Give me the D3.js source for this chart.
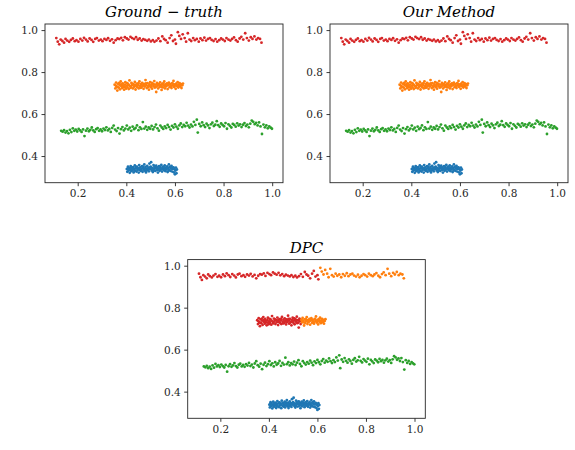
<!DOCTYPE html>
<html><head><meta charset="utf-8">
<script src="https://cdn.jsdelivr.net/npm/d3@7"></script>
<style>html,body{margin:0;padding:0;background:#fff}svg{display:block}</style>
</head><body>
<svg id="chart" width="575" height="450"></svg>
<script>
// ---- data ----
const redPts = [[0.112,0.962],[0.118,0.945],[0.124,0.932],[0.130,0.955],[0.137,0.948],[0.144,0.940],[0.150,0.958],[0.157,0.950],[0.165,0.944],[0.172,0.953],[0.180,0.960],[0.188,0.947],[0.195,0.952],[0.203,0.945],[0.211,0.958],[0.219,0.950],[0.226,0.963],[0.234,0.955],[0.241,0.946],[0.249,0.960],[0.257,0.953],[0.264,0.944],[0.272,0.958],[0.279,0.962],[0.287,0.950],[0.295,0.955],[0.302,0.947],[0.310,0.958],[0.318,0.953],[0.325,0.961],[0.333,0.949],[0.341,0.956],[0.348,0.940],[0.356,0.952],[0.364,0.960],[0.371,0.957],[0.379,0.963],[0.386,0.951],[0.394,0.966],[0.402,0.960],[0.409,0.955],[0.417,0.968],[0.424,0.962],[0.432,0.957],[0.440,0.966],[0.447,0.954],[0.455,0.960],[0.463,0.950],[0.470,0.957],[0.478,0.953],[0.486,0.949],[0.493,0.955],[0.501,0.946],[0.509,0.952],[0.516,0.944],[0.524,0.950],[0.532,0.960],[0.540,0.947],[0.548,0.970],[0.555,0.958],[0.562,0.952],[0.570,0.940],[0.578,0.962],[0.585,0.975],[0.592,0.948],[0.600,0.955],[0.604,0.935],[0.612,0.990],[0.618,0.972],[0.625,0.958],[0.632,0.980],[0.640,0.962],[0.646,0.945],[0.653,0.985],[0.660,0.955],[0.667,0.948],[0.675,0.962],[0.682,0.952],[0.690,0.958],[0.698,0.945],[0.705,0.960],[0.713,0.952],[0.721,0.964],[0.728,0.950],[0.736,0.958],[0.744,0.962],[0.751,0.953],[0.759,0.948],[0.767,0.957],[0.774,0.945],[0.782,0.952],[0.790,0.960],[0.797,0.955],[0.805,0.948],[0.812,0.962],[0.820,0.955],[0.828,0.950],[0.835,0.958],[0.843,0.965],[0.851,0.952],[0.858,0.945],[0.866,0.960],[0.873,0.968],[0.881,0.955],[0.889,0.985],[0.896,0.962],[0.904,0.950],[0.912,0.966],[0.919,0.958],[0.927,0.970],[0.935,0.955],[0.942,0.962],[0.950,0.958],[0.956,0.940]];

const orangePts = [[0.352,0.740],[0.355,0.722],[0.358,0.750],[0.361,0.731],[0.363,0.712],[0.366,0.744],[0.369,0.726],[0.372,0.738],[0.374,0.718],[0.377,0.755],[0.380,0.733],[0.383,0.724],[0.385,0.746],[0.388,0.729],[0.391,0.716],[0.394,0.740],[0.396,0.752],[0.399,0.721],[0.402,0.735],[0.405,0.727],[0.407,0.744],[0.410,0.719],[0.413,0.760],[0.416,0.733],[0.418,0.725],[0.421,0.748],[0.424,0.738],[0.427,0.722],[0.429,0.741],[0.432,0.730],[0.435,0.753],[0.438,0.717],[0.440,0.736],[0.443,0.745],[0.446,0.728],[0.449,0.739],[0.451,0.722],[0.454,0.756],[0.457,0.733],[0.460,0.743],[0.462,0.726],[0.465,0.749],[0.468,0.737],[0.471,0.720],[0.473,0.744],[0.476,0.731],[0.479,0.762],[0.482,0.738],[0.484,0.724],[0.487,0.747],[0.490,0.733],[0.493,0.716],[0.495,0.741],[0.498,0.752],[0.501,0.728],[0.504,0.739],[0.506,0.721],[0.509,0.745],[0.512,0.733],[0.515,0.757],[0.517,0.726],[0.520,0.740],[0.523,0.705],[0.526,0.748],[0.528,0.735],[0.531,0.722],[0.534,0.743],[0.537,0.730],[0.539,0.751],[0.542,0.738],[0.545,0.715],[0.548,0.744],[0.550,0.727],[0.553,0.737],[0.556,0.755],[0.559,0.722],[0.561,0.741],[0.564,0.732],[0.567,0.746],[0.570,0.719],[0.572,0.738],[0.575,0.750],[0.578,0.728],[0.581,0.742],[0.583,0.734],[0.586,0.724],[0.589,0.747],[0.592,0.736],[0.594,0.758],[0.597,0.729],[0.600,0.741],[0.603,0.720],[0.605,0.745],[0.608,0.733],[0.611,0.752],[0.614,0.726],[0.616,0.739],[0.619,0.747],[0.622,0.731],[0.625,0.742],[0.627,0.724],[0.630,0.737],[0.633,0.745],
[0.357,0.735],[0.364,0.728],[0.371,0.748],[0.379,0.741],[0.387,0.737],[0.395,0.729],[0.403,0.747],[0.411,0.738],[0.419,0.730],[0.426,0.744],[0.434,0.739],[0.442,0.731],[0.450,0.747],[0.458,0.725],[0.466,0.733],[0.474,0.740],[0.481,0.746],[0.489,0.729],[0.497,0.734],[0.505,0.749],[0.513,0.741],[0.521,0.729],[0.529,0.742],[0.536,0.738],[0.544,0.730],[0.552,0.746],[0.560,0.733],[0.568,0.739],[0.576,0.742],[0.584,0.731],[0.591,0.744],[0.599,0.735],[0.607,0.740],[0.615,0.733],[0.623,0.738]];

const greenPts = [[0.132,0.520],[0.138,0.516],[0.144,0.523],[0.150,0.512],[0.156,0.519],[0.162,0.508],[0.168,0.525],[0.174,0.514],[0.180,0.532],[0.186,0.520],[0.192,0.526],[0.198,0.517],[0.204,0.529],[0.210,0.522],[0.216,0.515],[0.222,0.527],[0.228,0.495],[0.234,0.521],[0.240,0.531],[0.246,0.518],[0.252,0.525],[0.258,0.536],[0.264,0.522],[0.270,0.515],[0.276,0.528],[0.282,0.533],[0.288,0.520],[0.294,0.527],[0.300,0.518],[0.306,0.531],[0.312,0.524],[0.318,0.537],[0.324,0.522],[0.330,0.529],[0.336,0.515],[0.342,0.534],[0.348,0.545],[0.354,0.526],[0.360,0.519],[0.366,0.533],[0.372,0.507],[0.378,0.528],[0.384,0.538],[0.390,0.522],[0.396,0.531],[0.402,0.545],[0.408,0.527],[0.414,0.535],[0.420,0.520],[0.426,0.540],[0.432,0.528],[0.438,0.534],[0.444,0.546],[0.450,0.523],[0.456,0.537],[0.462,0.529],[0.468,0.562],[0.474,0.531],[0.480,0.540],[0.486,0.525],[0.492,0.536],[0.498,0.530],[0.504,0.543],[0.510,0.527],[0.516,0.538],[0.522,0.550],[0.528,0.532],[0.534,0.521],[0.540,0.545],[0.546,0.536],[0.552,0.529],[0.558,0.541],[0.564,0.533],[0.570,0.548],[0.576,0.538],[0.582,0.526],[0.588,0.544],[0.594,0.536],[0.600,0.551],[0.606,0.540],[0.612,0.530],[0.618,0.546],[0.624,0.555],[0.630,0.538],[0.636,0.548],[0.642,0.542],[0.648,0.558],[0.654,0.545],[0.660,0.536],[0.666,0.550],[0.672,0.541],[0.678,0.563],[0.684,0.548],[0.690,0.573],[0.694,0.512],[0.700,0.553],[0.706,0.542],[0.712,0.560],[0.718,0.547],[0.724,0.538],[0.730,0.554],[0.736,0.546],[0.742,0.533],[0.748,0.551],[0.754,0.559],[0.760,0.543],[0.766,0.549],[0.772,0.566],[0.778,0.547],[0.784,0.539],[0.790,0.555],[0.796,0.548],[0.802,0.542],[0.808,0.557],[0.814,0.530],[0.820,0.551],[0.826,0.544],[0.832,0.536],[0.838,0.553],[0.844,0.548],[0.850,0.540],[0.856,0.556],[0.862,0.545],[0.868,0.551],[0.874,0.538],[0.880,0.549],[0.886,0.557],[0.892,0.543],[0.898,0.550],[0.904,0.537],[0.910,0.554],[0.916,0.569],[0.922,0.563],[0.928,0.552],[0.934,0.558],[0.940,0.546],[0.946,0.560],[0.952,0.541],[0.958,0.505],[0.964,0.550],[0.970,0.537],[0.976,0.546],[0.982,0.532],[0.988,0.541],[0.994,0.535],[0.999,0.530]];

const bluePts = [[0.402,0.338],[0.404,0.325],[0.407,0.350],[0.409,0.331],[0.411,0.344],[0.414,0.320],[0.416,0.336],[0.418,0.352],[0.421,0.328],[0.423,0.341],[0.425,0.333],[0.428,0.347],[0.430,0.322],[0.432,0.339],[0.435,0.355],[0.437,0.330],[0.439,0.343],[0.442,0.326],[0.444,0.349],[0.446,0.335],[0.449,0.341],[0.451,0.321],[0.453,0.357],[0.456,0.333],[0.458,0.346],[0.460,0.329],[0.463,0.339],[0.465,0.352],[0.467,0.325],[0.470,0.343],[0.472,0.335],[0.474,0.360],[0.477,0.330],[0.479,0.348],[0.481,0.322],[0.484,0.340],[0.486,0.353],[0.488,0.334],[0.491,0.345],[0.493,0.327],[0.495,0.364],[0.498,0.338],[0.500,0.350],[0.502,0.371],[0.505,0.331],[0.507,0.344],[0.509,0.324],[0.512,0.357],[0.514,0.339],[0.516,0.348],[0.519,0.329],[0.521,0.342],[0.523,0.354],[0.526,0.333],[0.528,0.346],[0.530,0.321],[0.533,0.340],[0.535,0.352],[0.537,0.330],[0.540,0.345],[0.542,0.336],[0.544,0.358],[0.547,0.326],[0.549,0.343],[0.551,0.349],[0.554,0.333],[0.556,0.340],[0.558,0.355],[0.561,0.328],[0.563,0.345],[0.565,0.337],[0.568,0.351],[0.570,0.324],[0.572,0.342],[0.575,0.360],[0.577,0.334],[0.579,0.347],[0.582,0.329],[0.584,0.341],[0.586,0.353],[0.589,0.326],[0.591,0.339],[0.593,0.346],[0.596,0.322],[0.598,0.337],[0.600,0.313],[0.602,0.331],[0.604,0.345],[0.606,0.318],[0.608,0.336],
[0.406,0.342],[0.413,0.334],[0.420,0.346],[0.427,0.338],[0.434,0.331],[0.441,0.347],[0.448,0.336],[0.455,0.344],[0.462,0.332],[0.469,0.350],[0.476,0.340],[0.483,0.331],[0.490,0.338],[0.497,0.345],[0.504,0.339],[0.511,0.332],[0.518,0.351],[0.525,0.340],[0.532,0.336],[0.539,0.350],[0.546,0.338],[0.553,0.347],[0.560,0.336],[0.567,0.343],[0.574,0.331],[0.581,0.350],[0.588,0.340],[0.595,0.343]];

const clusterNames = ["blue","orange","green","red"];
const clusterColors = {blue:"#1f77b4", orange:"#ff7f0e", green:"#2ca02c", red:"#d62728"};
const panelTitles = ["Ground \u2212 truth", "Our Method", "DPC"];
// DPC relabelling: points of a cluster at or beyond a split x get another label
const dpcSplits = [{cluster:"red", at:0.610, left:"red", right:"orange"},
                   {cluster:"orange", at:0.533, left:"red", right:"orange"}];
const xTicks = [0.2, 0.4, 0.6, 0.8, 1.0];
const yTicks = [0.4, 0.6, 0.8, 1.0];
const xDomain = [0.0655, 1.0445];
const yDomain = [0.273, 1.029];

// ---- build labelled point sets ----
const clusters = {blue:bluePts, orange:orangePts, green:greenPts, red:redPts};
function truthLabels(){
  const out=[];
  clusterNames.forEach(c=>clusters[c].forEach(p=>out.push({x:p[0],y:p[1],label:c})));
  return out;
}
function dpcLabels(){
  const out=[];
  clusterNames.forEach(c=>clusters[c].forEach(p=>{
    const s = dpcSplits.find(d=>d.cluster===c);
    const lab = s ? (p[0] < s.at ? s.left : s.right) : c;
    out.push({x:p[0],y:p[1],label:lab});
  }));
  return out;
}
const panelData = [truthLabels(), truthLabels(), dpcLabels()];

// ---- layout ----
const panels = [
  {left:45, top:24, w:238, h:158.7},
  {left:330, top:24, w:238, h:158.7},
  {left:187.7, top:259.6, w:237.6, h:158.7}
];

const svg = d3.select("#chart");
const ink = "#262626";

panels.forEach((P, i) => {
  const g = svg.append("g").attr("transform", `translate(${P.left},${P.top})`);
  const x = d3.scaleLinear().domain(xDomain).range([0, P.w]);
  const y = d3.scaleLinear().domain(yDomain).range([P.h, 0]);

  // points
  const order = ["red","orange","green","blue"];
  const pts = panelData[i].slice().sort((a,b)=>order.indexOf(a.label)-order.indexOf(b.label));
  g.append("g").selectAll("circle").data(pts).join("circle")
    .attr("cx", d=>x(d.x)).attr("cy", d=>y(d.y)).attr("r", 1.4)
    .attr("fill", d=>clusterColors[d.label]);

  // axes
  const xa = g.append("g").attr("transform", `translate(0,${P.h})`)
    .call(d3.axisBottom(x).tickValues(xTicks).tickFormat(d3.format(".1f")).tickSize(3.5).tickPadding(3.5));
  const ya = g.append("g")
    .call(d3.axisLeft(y).tickValues(yTicks).tickFormat(d3.format(".1f")).tickSize(3.5).tickPadding(3.5));
  [xa, ya].forEach(a=>{
    a.select(".domain").remove();
    a.selectAll("line").attr("stroke", ink).attr("stroke-width", 0.9);
    a.selectAll("text").attr("fill", ink).style("font-family","'DejaVu Serif', serif").style("font-size","10.5px");
  });
  // frame
  g.append("rect").attr("x",0).attr("y",0).attr("width",P.w).attr("height",P.h)
    .attr("fill","none").attr("stroke",ink).attr("stroke-width",0.9);
  // title
  g.append("text").attr("x", P.w/2).attr("y", -7).attr("text-anchor","middle")
    .style("font-family","'DejaVu Serif', serif").style("font-style","italic").style("font-size","15px")
    .attr("fill","#000").text(panelTitles[i]);
});
</script>
</body></html>
